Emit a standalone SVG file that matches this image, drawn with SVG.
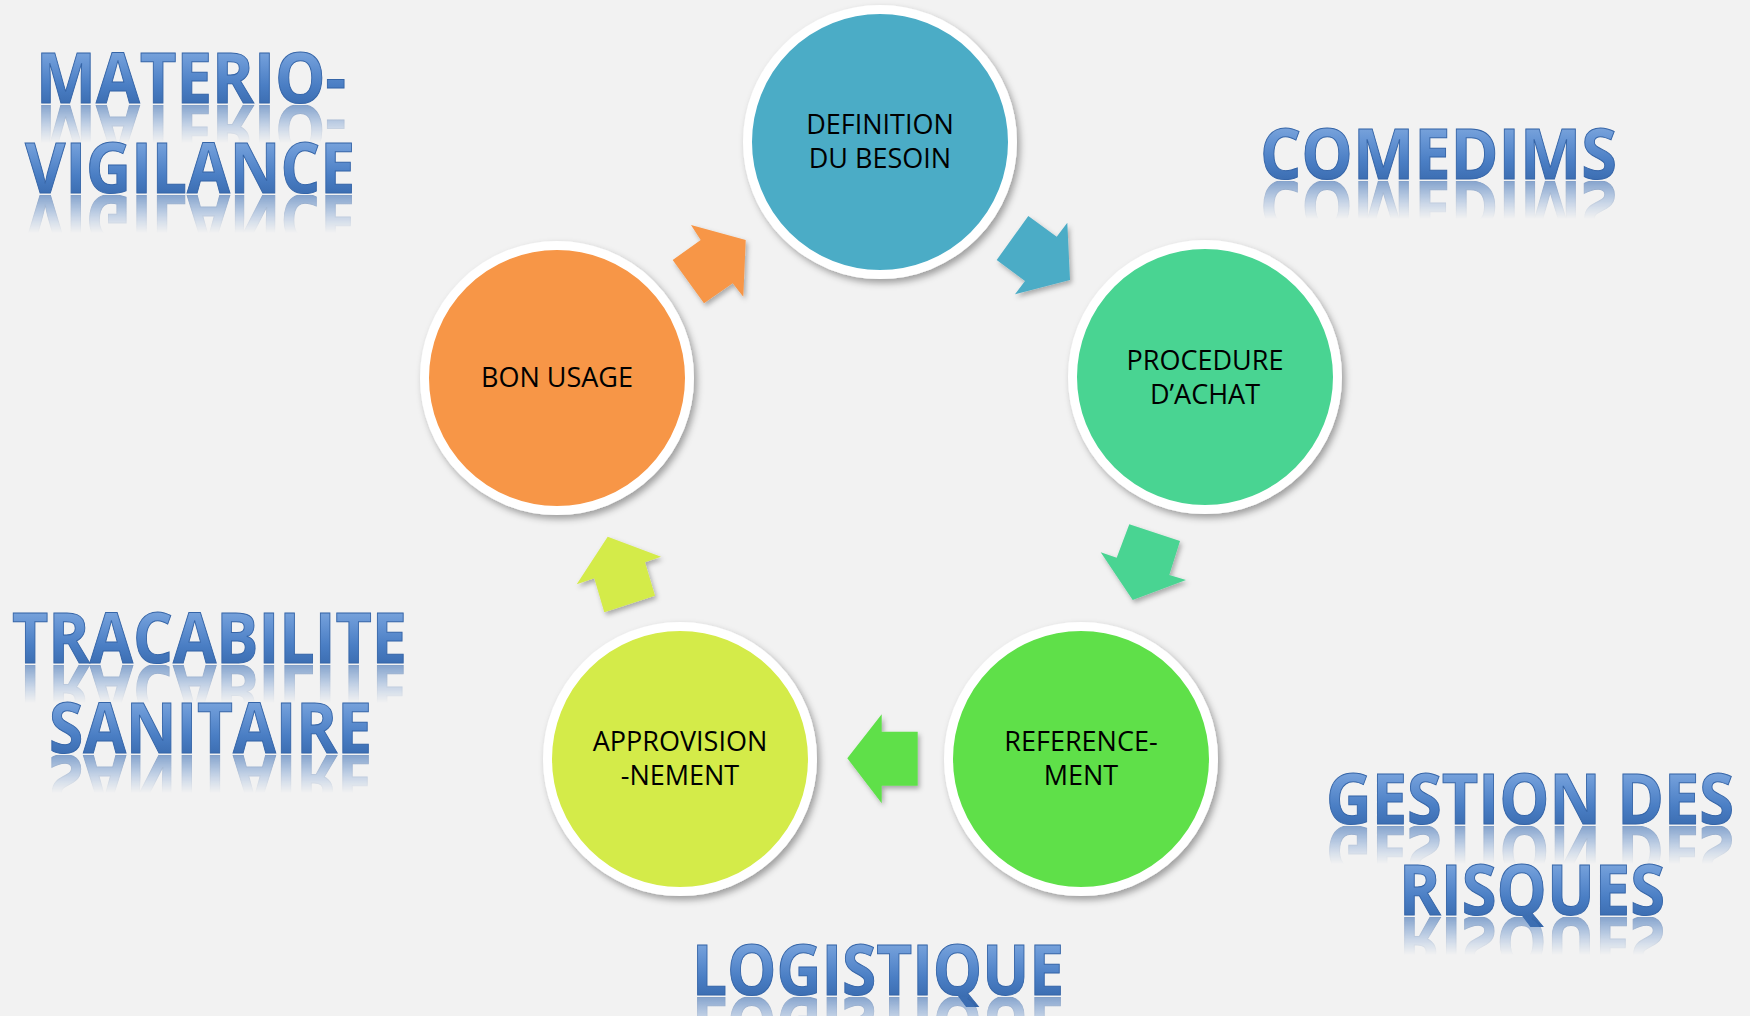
<svg xmlns="http://www.w3.org/2000/svg" xmlns:xlink="http://www.w3.org/1999/xlink" width="1750" height="1016" viewBox="0 0 1750 1016">
<defs>
<style>
.node circle{stroke:#fff;stroke-width:9;filter:url(#sh)}
.node text{font-family:"Open Sans","Noto Sans","Liberation Sans",sans-serif;font-size:27px;fill:#000;text-anchor:middle}
.arrow{filter:url(#sh2)}
.title{font-family:"Open Sans","Noto Sans","Liberation Sans",sans-serif;font-weight:700;font-size:70px;fill:url(#tg);stroke:#3565a8;stroke-width:1}
</style>
<filter id="sh" x="-20%" y="-20%" width="140%" height="140%">
<feDropShadow dx="3" dy="4" stdDeviation="3.5" flood-color="#000" flood-opacity="0.35"/>
</filter>
<filter id="sh2" x="-20%" y="-20%" width="140%" height="140%">
<feDropShadow dx="2" dy="3" stdDeviation="2.5" flood-color="#000" flood-opacity="0.3"/>
</filter>
<linearGradient id="tg" x1="0" y1="0" x2="0" y2="1">
<stop offset="0" stop-color="#9cbde8"/>
<stop offset="0.35" stop-color="#6a98d6"/>
<stop offset="0.6" stop-color="#4a7ec4"/>
<stop offset="1" stop-color="#2d5c9e"/>
</linearGradient>
<linearGradient id="rg" x1="0" y1="0" x2="0" y2="1">
<stop offset="0" stop-color="#fff" stop-opacity="0"/>
<stop offset="1" stop-color="#fff" stop-opacity="0.6"/>
</linearGradient>
<mask id="m1" maskUnits="userSpaceOnUse" x="0" y="0" width="1750" height="1016"><rect x="0" y="65" width="500" height="38" fill="url(#rg)"/></mask>
<mask id="m2" maskUnits="userSpaceOnUse" x="0" y="0" width="1750" height="1016"><rect x="0" y="155" width="500" height="38" fill="url(#rg)"/></mask>
<mask id="m3" maskUnits="userSpaceOnUse" x="0" y="0" width="1750" height="1016"><rect x="1200" y="141" width="500" height="38" fill="url(#rg)"/></mask>
<mask id="m4" maskUnits="userSpaceOnUse" x="0" y="0" width="1750" height="1016"><rect x="0" y="625" width="500" height="38" fill="url(#rg)"/></mask>
<mask id="m5" maskUnits="userSpaceOnUse" x="0" y="0" width="1750" height="1016"><rect x="0" y="715" width="500" height="38" fill="url(#rg)"/></mask>
<mask id="m6" maskUnits="userSpaceOnUse" x="0" y="0" width="1750" height="1016"><rect x="600" y="957" width="600" height="38" fill="url(#rg)"/></mask>
<mask id="m7" maskUnits="userSpaceOnUse" x="0" y="0" width="1750" height="1016"><rect x="1250" y="786" width="500" height="38" fill="url(#rg)"/></mask>
<mask id="m8" maskUnits="userSpaceOnUse" x="0" y="0" width="1750" height="1016"><rect x="1250" y="877" width="500" height="38" fill="url(#rg)"/></mask>
</defs>
<rect width="1750" height="1016" fill="#f2f2f2"/>

<g id="connectors">
<polygon class="arrow" fill="#f79646" points="691,225 745.7,240 743.3,296.7 732.7,283.3 704,303.3 672.7,260 700.7,240"/>
<polygon class="arrow" fill="#4bacc6" points="996.7,260 1028.3,216 1056.7,236.7 1067.3,222.7 1070,280 1015,294.3 1025,281"/>
<polygon class="arrow" fill="#4ad492" points="1129.3,524.3 1180,541 1169.3,575 1186,580 1132.7,600 1100.7,552.3 1116.7,557.7"/>
<polygon class="arrow" fill="#5fe04a" points="881.7,714.3 881.7,731.7 917.7,731.7 917.7,785.7 881.7,785.7 881.7,803.3 847.3,758.3"/>
<polygon class="arrow" fill="#d4eb48" points="607.7,536.7 661,556.7 645,562.3 655,595.7 604.3,612.3 594.3,578.3 576.7,584.3"/>
</g>

<g id="node-definition" class="node">
<circle cx="880" cy="142" r="132.5" fill="#4bacc6"/>
<text x="880" y="134">DEFINITION</text>
<text x="880" y="168">DU BESOIN</text>
</g>
<g id="node-procedure" class="node">
<circle cx="1205" cy="377" r="132.5" fill="#4ad492"/>
<text x="1205" y="370">PROCEDURE</text>
<text x="1205" y="404">D’ACHAT</text>
</g>
<g id="node-referencement" class="node">
<circle cx="1081" cy="759" r="132.5" fill="#5fe04a"/>
<text x="1081" y="751">REFERENCE-</text>
<text x="1081" y="785">MENT</text>
</g>
<g id="node-approvisionnement" class="node">
<circle cx="680" cy="759" r="132.5" fill="#d4eb48"/>
<text x="680" y="751">APPROVISION</text>
<text x="680" y="785">-NEMENT</text>
</g>
<g id="node-bon-usage" class="node">
<circle cx="557" cy="378" r="132.5" fill="#f79646"/>
<text x="557" y="387">BON USAGE</text>
</g>

<g id="titles">
<g id="title-materiovigilance">
<text id="t1" class="title" x="36" y="103" textLength="310" lengthAdjust="spacingAndGlyphs">MATERIO-</text>
<text id="t2" class="title" x="25" y="193" textLength="330" lengthAdjust="spacingAndGlyphs">VIGILANCE</text>
<use xlink:href="#t1" href="#t1" transform="translate(0,208) scale(1,-1)" mask="url(#m1)"/>
<use xlink:href="#t2" href="#t2" transform="translate(0,388) scale(1,-1)" mask="url(#m2)"/>
</g>
<g id="title-comedims">
<text id="t3" class="title" x="1260" y="179" textLength="357" lengthAdjust="spacingAndGlyphs">COMEDIMS</text>
<use xlink:href="#t3" href="#t3" transform="translate(0,360) scale(1,-1)" mask="url(#m3)"/>
</g>
<g id="title-tracabilite">
<text id="t4" class="title" x="12" y="663" textLength="395" lengthAdjust="spacingAndGlyphs">TRACABILITE</text>
<text id="t5" class="title" x="49" y="753" textLength="323" lengthAdjust="spacingAndGlyphs">SANITAIRE</text>
<use xlink:href="#t4" href="#t4" transform="translate(0,1328) scale(1,-1)" mask="url(#m4)"/>
<use xlink:href="#t5" href="#t5" transform="translate(0,1508) scale(1,-1)" mask="url(#m5)"/>
</g>
<g id="title-logistique">
<text id="t6" class="title" x="692" y="995" textLength="372" lengthAdjust="spacingAndGlyphs">LOGISTIQUE</text>
<use xlink:href="#t6" href="#t6" transform="translate(0,1992) scale(1,-1)" mask="url(#m6)"/>
</g>
<g id="title-gestion">
<text id="t7" class="title" x="1734" y="824" text-anchor="end" textLength="408" lengthAdjust="spacingAndGlyphs">GESTION DES</text>
<text id="t8" class="title" x="1532" y="915" text-anchor="middle" textLength="266" lengthAdjust="spacingAndGlyphs">RISQUES</text>
<use xlink:href="#t7" href="#t7" transform="translate(0,1650) scale(1,-1)" mask="url(#m7)"/>
<use xlink:href="#t8" href="#t8" transform="translate(0,1832) scale(1,-1)" mask="url(#m8)"/>
</g>
</g>
</svg>
